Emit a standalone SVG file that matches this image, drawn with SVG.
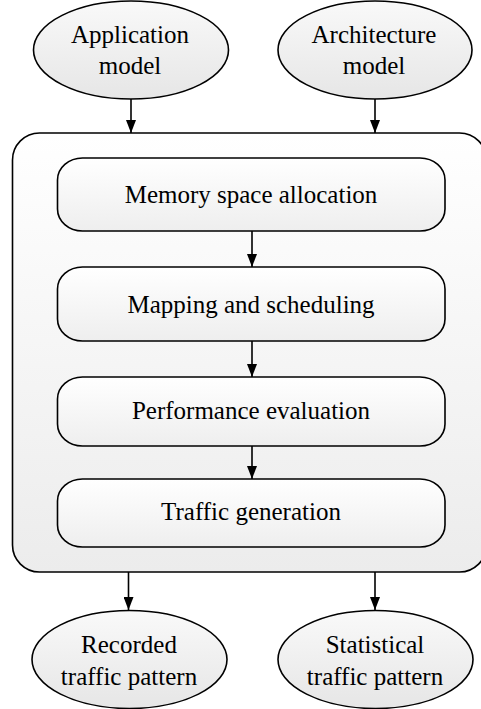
<svg xmlns="http://www.w3.org/2000/svg" width="481" height="709" viewBox="0 0 481 709">
<defs>
<linearGradient id="gEll" x1="0" y1="0" x2="0" y2="1">
<stop offset="0" stop-color="#f9f9f9"/><stop offset="1" stop-color="#e6e6e6"/>
</linearGradient>
<linearGradient id="gCont" x1="0" y1="0" x2="0" y2="1">
<stop offset="0" stop-color="#ffffff"/><stop offset="1" stop-color="#ececec"/>
</linearGradient>
<linearGradient id="gBox" x1="0" y1="0" x2="0" y2="1">
<stop offset="0" stop-color="#ffffff"/><stop offset="1" stop-color="#eeeeee"/>
</linearGradient>
<marker id="arr" markerUnits="userSpaceOnUse" markerWidth="13" markerHeight="10" refX="13" refY="5" orient="auto">
<path d="M0,0 L13,5 L0,10 z" fill="#000"/>
</marker>
</defs>
<style>
.ell{fill:url(#gEll);stroke:#000;stroke-width:1.6}
.box{fill:url(#gBox);stroke:#000;stroke-width:1.6}
.cont{fill:url(#gCont);stroke:#000;stroke-width:1.6}
.t{font-family:"Liberation Serif","Times New Roman",serif;font-size:25px;fill:#000;text-anchor:middle}
.c{stroke:#000;stroke-width:1.6;fill:none;marker-end:url(#arr)}
</style>
<g id="container"><rect class="cont" x="12.5" y="133" width="474" height="439" rx="27" ry="27"/></g>
<g id="app"><ellipse class="ell" cx="131" cy="50" rx="97.5" ry="49"/>
<text class="t" x="130" y="43">Application</text><text class="t" x="130" y="74">model</text></g>
<g id="arch"><ellipse class="ell" cx="375" cy="50" rx="97" ry="49"/>
<text class="t" x="374" y="43">Architecture</text><text class="t" x="374" y="74">model</text></g>
<g id="mem"><rect class="box" x="57.5" y="158" width="387.5" height="73" rx="25" ry="22"/>
<text class="t" x="251" y="203">Memory space allocation</text></g>
<g id="map"><rect class="box" x="57.5" y="267" width="387.5" height="74" rx="25" ry="22"/>
<text class="t" x="251" y="313">Mapping and scheduling</text></g>
<g id="perf"><rect class="box" x="57.5" y="377" width="387.5" height="69" rx="25" ry="22"/>
<text class="t" x="251" y="419">Performance evaluation</text></g>
<g id="traffic"><rect class="box" x="57.5" y="479" width="387.5" height="68" rx="25" ry="22"/>
<text class="t" x="251" y="520">Traffic generation</text></g>
<g id="rec"><ellipse class="ell" cx="129.5" cy="659.5" rx="97.5" ry="49"/>
<text class="t" x="129" y="653">Recorded</text><text class="t" x="129" y="685">traffic pattern</text></g>
<g id="stat"><ellipse class="ell" cx="375.5" cy="659.5" rx="97.5" ry="49"/>
<text class="t" x="375" y="653">Statistical</text><text class="t" x="375" y="685">traffic pattern</text></g>
<g id="connectors">
<line class="c" x1="131" y1="99" x2="131" y2="133"/>
<line class="c" x1="375" y1="99" x2="375" y2="133"/>
<line class="c" x1="252" y1="231" x2="252" y2="267"/>
<line class="c" x1="252" y1="341" x2="252" y2="377"/>
<line class="c" x1="252" y1="446" x2="252" y2="479"/>
<line class="c" x1="128.5" y1="572" x2="128.5" y2="610"/>
<line class="c" x1="375" y1="572" x2="375" y2="610"/>
</g>
</svg>
